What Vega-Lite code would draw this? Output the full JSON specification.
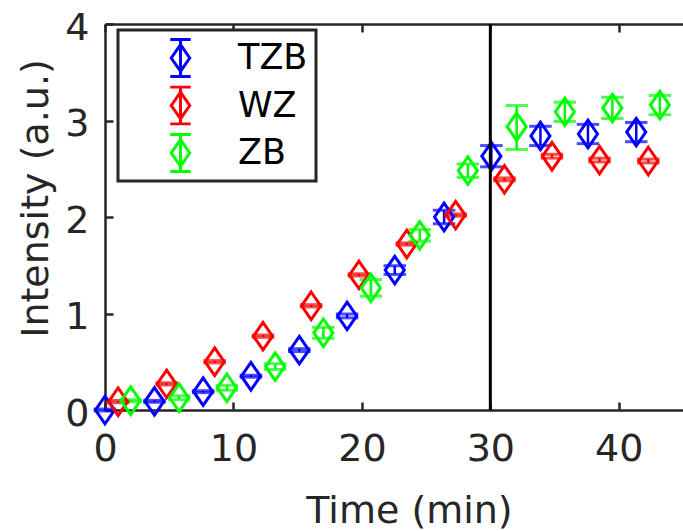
{
  "$schema": "https://vega.github.io/schema/vega-lite/v6.json",
  "width": 578,
  "height": 386,
  "autosize": {"type": "none"},
  "padding": {"left": 105, "top": 24, "right": 0, "bottom": 121},
  "background": "white",
  "config": {
    "view": {"stroke": null},
    "font": "DejaVu Sans",
    "axis": {
      "domainColor": "#262626",
      "domainWidth": 2.5,
      "tickColor": "#262626",
      "tickWidth": 2.5,
      "tickSize": -8,
      "labelColor": "#262626",
      "titleColor": "#262626",
      "labelFont": "DejaVu Sans",
      "titleFont": "DejaVu Sans",
      "labelFontSize": 38,
      "titleFontSize": 38,
      "titleFontWeight": "normal",
      "labelFlush": false,
      "grid": false
    },
    "legend": {
      "orient": "none",
      "legendX": 13,
      "legendY": 6,
      "padding": 8,
      "symbolOffset": 37,
      "labelOffset": 40,
      "labelFontSize": 35,
      "labelFont": "DejaVu Sans",
      "labelColor": "#000000",
      "labelBaseline": "middle",
      "symbolType": "M0,-1.3L0.9,0L0,1.3L-0.9,0Z M0,-1.8L0,1.8 M-1,-1.8L1,-1.8 M-1,1.8L1,1.8",
      "symbolSize": 420,
      "symbolStrokeWidth": 3,
      "symbolFillColor": "transparent",
      "symbolOpacity": 1,
      "strokeColor": "#262626",
      "strokeWidth": 3,
      "fillColor": "white",
      "clipHeight": 40,
      "rowPadding": 7.5,
      "title": null
    }
  },
  "datasets": {
    "pts": [
      {"series": "TZB", "t": 0, "y": 0, "lo": -0.01, "hi": 0.01},
      {"series": "TZB", "t": 3.85, "y": 0.09, "lo": 0.08, "hi": 0.1},
      {"series": "TZB", "t": 7.64, "y": 0.19, "lo": 0.18, "hi": 0.2},
      {"series": "TZB", "t": 11.36, "y": 0.35, "lo": 0.34, "hi": 0.36},
      {"series": "TZB", "t": 15.13, "y": 0.62, "lo": 0.605, "hi": 0.635},
      {"series": "TZB", "t": 18.85, "y": 0.975, "lo": 0.955, "hi": 0.995},
      {"series": "TZB", "t": 22.56, "y": 1.45, "lo": 1.405, "hi": 1.495},
      {"series": "TZB", "t": 26.4, "y": 2.0, "lo": 1.93, "hi": 2.07},
      {"series": "TZB", "t": 30.08, "y": 2.63, "lo": 2.52, "hi": 2.74},
      {"series": "TZB", "t": 33.9, "y": 2.84, "lo": 2.74, "hi": 2.94},
      {"series": "TZB", "t": 37.6, "y": 2.86, "lo": 2.76, "hi": 2.96},
      {"series": "TZB", "t": 41.36, "y": 2.88, "lo": 2.78, "hi": 2.98},
      {"series": "WZ", "t": 1.02, "y": 0.086, "lo": 0.074, "hi": 0.098},
      {"series": "WZ", "t": 4.8, "y": 0.27, "lo": 0.258, "hi": 0.282},
      {"series": "WZ", "t": 8.54, "y": 0.5, "lo": 0.488, "hi": 0.512},
      {"series": "WZ", "t": 12.3, "y": 0.765, "lo": 0.753, "hi": 0.777},
      {"series": "WZ", "t": 16.05, "y": 1.08, "lo": 1.068, "hi": 1.092},
      {"series": "WZ", "t": 19.77, "y": 1.4, "lo": 1.388, "hi": 1.412},
      {"series": "WZ", "t": 23.5, "y": 1.72, "lo": 1.708, "hi": 1.732},
      {"series": "WZ", "t": 27.3, "y": 2.02, "lo": 2.008, "hi": 2.032},
      {"series": "WZ", "t": 31.1, "y": 2.39, "lo": 2.375, "hi": 2.405},
      {"series": "WZ", "t": 34.8, "y": 2.63, "lo": 2.61, "hi": 2.65},
      {"series": "WZ", "t": 38.5, "y": 2.59, "lo": 2.57, "hi": 2.61},
      {"series": "WZ", "t": 42.3, "y": 2.58, "lo": 2.56, "hi": 2.6},
      {"series": "ZB", "t": 2.0, "y": 0.096, "lo": 0.086, "hi": 0.106},
      {"series": "ZB", "t": 5.77, "y": 0.127, "lo": 0.107, "hi": 0.147},
      {"series": "ZB", "t": 9.49, "y": 0.23, "lo": 0.204, "hi": 0.256},
      {"series": "ZB", "t": 13.25, "y": 0.45, "lo": 0.42, "hi": 0.48},
      {"series": "ZB", "t": 17.0, "y": 0.8, "lo": 0.743, "hi": 0.857},
      {"series": "ZB", "t": 20.7, "y": 1.265, "lo": 1.179, "hi": 1.351},
      {"series": "ZB", "t": 24.5, "y": 1.81, "lo": 1.75, "hi": 1.87},
      {"series": "ZB", "t": 28.25, "y": 2.48, "lo": 2.41, "hi": 2.55},
      {"series": "ZB", "t": 32.05, "y": 2.936, "lo": 2.7, "hi": 3.155},
      {"series": "ZB", "t": 35.8, "y": 3.09, "lo": 2.99, "hi": 3.19},
      {"series": "ZB", "t": 39.5, "y": 3.13, "lo": 3.02, "hi": 3.24},
      {"series": "ZB", "t": 43.2, "y": 3.16, "lo": 3.06, "hi": 3.26}
    ],
    "vline": [{"t": 30}]
  },
  "layer": [
    {
      "data": {"name": "pts"},
      "mark": {"type": "rule", "strokeWidth": 2.5},
      "encoding": {
        "x": {"field": "t", "type": "quantitative", "scale": {"domain": [0, 44.3]}, "axis": null},
        "y": {"field": "lo", "type": "quantitative", "scale": {"domain": [0, 4]}, "title": "Intensity (a.u.)"},
        "y2": {"field": "hi"},
        "stroke": {"field": "series", "type": "nominal", "scale": {"domain": ["TZB", "WZ", "ZB"], "range": ["#0000ff", "#ff0000", "#00ff00"]}}
      }
    },
    {
      "data": {"name": "pts"},
      "mark": {"type": "tick", "orient": "horizontal", "size": 20, "thickness": 0.5, "filled": false, "strokeWidth": 2.5},
      "encoding": {
        "x": {"field": "t", "type": "quantitative", "axis": null},
        "y": {"field": "lo", "type": "quantitative", "title": "Intensity (a.u.)"},
        "stroke": {"field": "series", "type": "nominal"}
      }
    },
    {
      "data": {"name": "pts"},
      "mark": {"type": "tick", "orient": "horizontal", "size": 20, "thickness": 0.5, "filled": false, "strokeWidth": 2.5},
      "encoding": {
        "x": {"field": "t", "type": "quantitative", "axis": null},
        "y": {"field": "hi", "type": "quantitative", "title": "Intensity (a.u.)"},
        "stroke": {"field": "series", "type": "nominal"}
      }
    },
    {
      "data": {"name": "pts"},
      "mark": {"type": "point", "filled": false, "strokeWidth": 3, "opacity": 1, "size": 450, "shape": "M0,-1.3L0.9,0L0,1.3L-0.9,0Z"},
      "encoding": {
        "x": {"field": "t", "type": "quantitative", "title": "Time (min)", "axis": {"orient": "bottom", "values": [0, 10, 20, 30, 40], "labelPadding": 28, "titleX": 304, "titleY": 112, "titleBaseline": "alphabetic", "titleAlign": "center"}},
        "y": {"field": "y", "type": "quantitative", "title": "Intensity (a.u.)", "axis": {"orient": "left", "values": [0, 1, 2, 3, 4], "format": "d", "labelPadding": 24, "labelOffset": 4, "titleX": -58, "titleY": 174, "titleBaseline": "alphabetic", "titleAlign": "center", "titleAngle": 270}},
        "stroke": {"field": "series", "type": "nominal"}
      }
    },
    {
      "data": {"name": "vline"},
      "mark": {"type": "rule", "color": "#000000", "strokeWidth": 3},
      "encoding": {
        "x": {"field": "t", "type": "quantitative", "title": null, "axis": {"orient": "top", "values": [0, 10, 20, 30, 40], "labels": false, "title": null}}
      }
    }
  ],
  "resolve": {"axis": {"x": "independent"}}
}
